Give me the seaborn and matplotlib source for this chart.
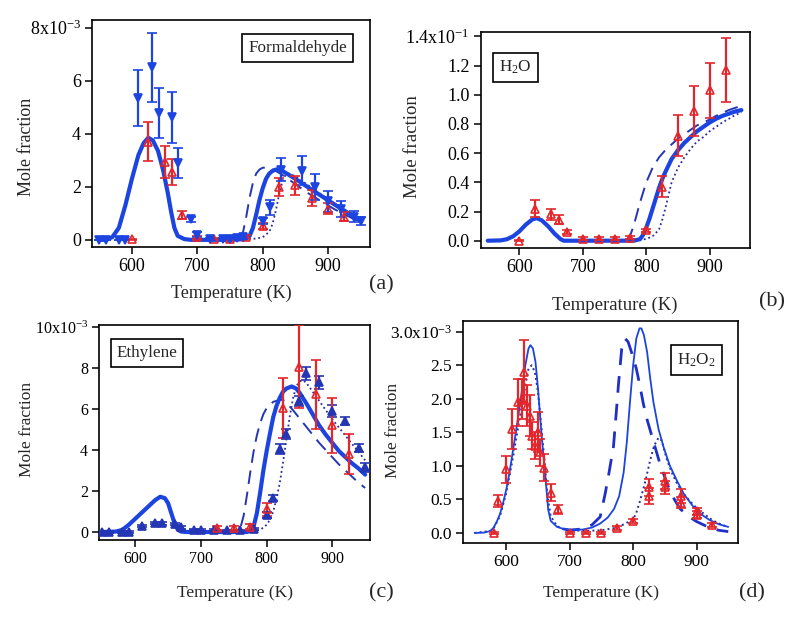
import matplotlib
matplotlib.use("Agg")
import matplotlib.pyplot as plt
import seaborn as sns
import pandas as pd

# ================= DATA =================
# ---- (a) Formaldehyde, units 1e-3 ----
a_blue_T = [550, 560, 580, 590, 610, 630, 641, 661, 671, 690, 700, 720, 740, 750, 760, 770,
            800, 811, 828, 860, 880, 900, 920, 940, 950]
a_blue_y = [0, 0, 0, 0, 5.35, 6.5, 4.78, 4.62, 2.9, 0.78, 0.2, 0.05, 0.05, 0.05, 0.07, 0.1,
            0.72, 1.22, 2.65, 2.6, 2.0, 1.45, 1.15, 0.87, 0.7]
a_blue_err = [0, 0, 0, 0, 1.05, 1.3, 0.95, 0.95, 0.58, 0.1, 0.08, 0.03, 0.03, 0.03, 0.03, 0.04,
              0.12, 0.3, 0.45, 0.55, 0.5, 0.4, 0.3, 0.2, 0.15]
a_red_T = [600, 625, 650, 662, 676, 700, 725, 750, 775, 800, 825, 850, 875, 900, 925]
a_red_y = [0.02, 3.7, 2.95, 2.55, 0.95, 0.1, 0.05, 0.05, 0.12, 0.52, 2.0, 2.05, 1.58, 1.18, 0.88]
a_red_err = [0.03, 0.74, 0.6, 0.48, 0.15, 0.05, 0.03, 0.03, 0.05, 0.1, 0.35, 0.35, 0.3, 0.22, 0.18]

a_solid_T = [550, 560, 570, 580, 590, 600, 610, 618, 625, 632, 640, 648, 655, 660, 665, 670, 680, 690,
             750, 770, 775, 780, 785, 790, 795, 800, 805, 810, 815, 820, 825, 830, 850, 870, 890,
             910, 930, 950]
a_solid_y = [0, 0, 0.1, 0.45, 1.3, 2.3, 3.2, 3.65, 3.85, 3.75, 3.35, 2.6, 1.75, 1.05, 0.45, 0.15, 0.03, 0,
             0, 0.02, 0.05, 0.15, 0.45, 0.95, 1.5, 1.95, 2.3, 2.5, 2.6, 2.65, 2.65, 2.6, 2.3, 1.97,
             1.65, 1.33, 1.02, 0.72]
a_dash_T = [700, 760, 765, 770, 775, 780, 785, 790, 795, 800, 810, 820, 830, 850, 870, 890, 910, 930, 950]
a_dash_y = [0, 0.0, 0.1, 0.3, 0.9, 1.6, 2.15, 2.5, 2.65, 2.72, 2.72, 2.6, 2.45, 2.1, 1.75, 1.45,
            1.15, 0.9, 0.65]
a_dot_T = [700, 770, 790, 800, 810, 815, 820, 825, 830, 835, 840, 850, 870, 890, 910, 930, 950]
a_dot_y = [0, 0, 0.05, 0.1, 0.3, 0.6, 1.1, 1.7, 2.2, 2.45, 2.5, 2.4, 2.05, 1.7, 1.35, 1.05, 0.78]

# ---- (b) H2O, units 1e-1 ----
b_red_T = [600, 625, 650, 663, 675, 700, 725, 750, 775, 800, 825, 850, 875, 900, 925]
b_red_y = [0.0, 0.22, 0.18, 0.145, 0.06, 0.015, 0.015, 0.015, 0.02, 0.07, 0.37, 0.72, 0.89, 1.03, 1.17]
b_red_err = [0.005, 0.06, 0.04, 0.03, 0.015, 0.008, 0.008, 0.008, 0.01, 0.012, 0.07, 0.14, 0.17, 0.19, 0.22]

b_solid_T = [550, 570, 580, 590, 600, 610, 620, 627, 635, 645, 655, 665, 670, 780, 790, 795, 800,
             805, 810, 815, 820, 825, 830, 840, 850, 860, 870, 880, 890, 900, 910, 920, 930, 940, 950]
b_solid_y = [0, 0.002, 0.01, 0.03, 0.065, 0.11, 0.145, 0.155, 0.14, 0.1, 0.05, 0.01, 0.0, 0.0, 0.01,
             0.04, 0.09, 0.15, 0.22, 0.29, 0.36, 0.42, 0.47, 0.56, 0.62, 0.67, 0.71, 0.75, 0.78,
             0.81, 0.835, 0.855, 0.87, 0.885, 0.895]
b_dash_T = [700, 760, 770, 775, 780, 785, 790, 795, 800, 810, 820, 830, 840, 850, 860, 870, 880,
            890, 900, 910, 920, 930, 940, 950]
b_dash_y = [0, 0, 0.01, 0.04, 0.1, 0.18, 0.26, 0.33, 0.40, 0.5, 0.57, 0.62, 0.66, 0.70, 0.73,
            0.76, 0.79, 0.81, 0.83, 0.855, 0.875, 0.895, 0.91, 0.925]
b_dot_T = [700, 780, 790, 800, 810, 820, 825, 830, 835, 840, 850, 860, 870, 880, 890, 900, 910,
           920, 930, 940, 950]
b_dot_y = [0, 0, 0.005, 0.012, 0.03, 0.075, 0.14, 0.22, 0.31, 0.40, 0.5, 0.57, 0.63, 0.68, 0.71,
           0.75, 0.78, 0.81, 0.835, 0.86, 0.88]

# ---- (c) Ethylene, units 1e-3 ----
c_blue_T = [550, 560, 580, 590, 610, 630, 640, 660, 670, 690, 700, 720, 740, 760, 780, 800, 810,
            820, 830, 850, 860, 880, 900, 920, 940, 950]
c_blue_y = [0, 0, 0, 0, 0.28, 0.45, 0.42, 0.39, 0.22, 0.12, 0.1, 0.1, 0.08, 0.08, 0.15, 0.85,
            1.64, 4.05, 4.8, 6.4, 7.74, 7.3, 5.9, 5.4, 4.08, 3.15]
c_blue_err = [0.03, 0.03, 0.03, 0.03, 0.05, 0.06, 0.06, 0.06, 0.05, 0.04, 0.04, 0.04, 0.04, 0.04,
              0.05, 0.15, 0.15, 0.25, 0.25, 0.25, 0.3, 0.3, 0.3, 0.2, 0.2, 0.2]
c_red_T = [725, 750, 775, 800, 825, 850, 875, 900, 925]
c_red_y = [0.2, 0.2, 0.25, 1.1, 6.03, 8.06, 6.72, 5.2, 3.8]
c_red_err = [0.1, 0.1, 0.12, 0.3, 1.46, 2.03, 1.67, 1.33, 0.97]

c_solid_T = [550, 570, 580, 590, 600, 610, 620, 630, 638, 645, 650, 655, 660, 665, 670, 680, 770,
             775, 780, 785, 790, 795, 800, 805, 810, 815, 820, 825, 830, 838, 845, 850, 860, 870,
             880, 890, 900, 910, 920, 930, 940, 950]
c_solid_y = [0, 0.02, 0.1, 0.35, 0.65, 0.95, 1.25, 1.55, 1.72, 1.65, 1.4, 0.9, 0.4, 0.1, 0.02, 0,
             0, 0.05, 0.25, 0.9, 1.9, 3.0, 3.95, 4.8, 5.6, 6.15, 6.55, 6.85, 7.0, 7.1, 7.0, 6.8,
             6.3, 5.75, 5.2, 4.75, 4.35, 3.95, 3.65, 3.35, 3.1, 2.8]
c_dash_T = [700, 750, 755, 760, 765, 770, 775, 780, 785, 790, 795, 800, 810, 820, 825, 830, 840,
            850, 860, 870, 880, 890, 900, 910, 920, 930, 940, 950]
c_dash_y = [0, 0, 0.05, 0.2, 0.8, 1.8, 2.9, 3.9, 4.7, 5.3, 5.75, 6.05, 6.35, 6.45, 6.45, 6.3,
            5.95, 5.55, 5.15, 4.75, 4.35, 4.0, 3.65, 3.3, 3.0, 2.7, 2.4, 2.15]
c_dot_T = [700, 770, 790, 800, 805, 810, 815, 820, 825, 830, 835, 840, 845, 850, 855, 860, 870,
           880, 890, 900, 910, 920, 930, 940, 950]
c_dot_y = [0, 0, 0.1, 0.35, 0.6, 1.0, 1.6, 2.4, 3.4, 4.5, 5.6, 6.5, 7.1, 7.35, 7.4, 7.3, 6.85,
           6.4, 5.95, 5.5, 5.1, 4.7, 4.3, 3.9, 3.5]

# ---- (d) H2O2, units 1e-3 ----
d_red_T = [580, 587, 600, 609, 618, 625, 628, 632, 637, 640, 645, 650, 653, 660, 671, 681, 700,
           725, 750, 775, 800, 825, 825, 850, 850, 875, 875, 900, 900, 925]
d_red_y = [0.0, 0.47, 0.95, 1.55, 1.95, 2.0, 2.4, 1.9, 1.75, 1.45, 1.3, 1.5, 1.2, 0.97, 0.6, 0.35,
           0.0, 0.0, 0.0, 0.08, 0.18, 0.68, 0.55, 0.78, 0.68, 0.55, 0.45, 0.32, 0.27, 0.12]
d_red_err = [0.02, 0.09, 0.2, 0.3, 0.35, 0.3, 0.48, 0.3, 0.3, 0.2, 0.2, 0.3, 0.2, 0.2, 0.13, 0.07,
             0.02, 0.02, 0.02, 0.03, 0.03, 0.13, 0.12, 0.12, 0.1, 0.1, 0.08, 0.05, 0.05, 0.03]

d_solid_T = [550, 565, 575, 580, 585, 590, 595, 600, 605, 610, 615, 620, 625, 630, 635, 638, 642,
             646, 650, 654, 658, 662, 666, 670, 680, 690, 700, 720, 735, 748, 760, 770, 778, 785,
             790, 795, 800, 805, 810, 813, 817, 822, 827, 832, 840, 848, 858, 869, 880, 895, 910,
             921, 935, 950]
d_solid_y = [0, 0.005, 0.03, 0.08, 0.17, 0.28, 0.45, 0.65, 0.9, 1.2, 1.5, 1.82, 2.15, 2.5, 2.75,
             2.8, 2.75, 2.55, 2.15, 1.65, 1.2, 0.8, 0.35, 0.18, 0.09, 0.06, 0.05, 0.05, 0.08, 0.14,
             0.23, 0.36, 0.55, 0.9, 1.35, 1.95, 2.5, 2.9, 3.05, 3.05, 2.95, 2.7, 2.3, 1.95, 1.55,
             1.28, 1.0, 0.78, 0.58, 0.39, 0.26, 0.19, 0.13, 0.09]
d_dash_T = [690, 700, 720, 735, 748, 756, 762, 769, 773, 777, 782, 787, 792, 798, 805, 811, 816,
            822, 830, 842, 855, 865, 874, 887, 900, 920, 935, 950]
d_dash_y = [0.06, 0.04, 0.06, 0.12, 0.24, 0.59, 0.9, 1.29, 1.75, 2.23, 2.75, 2.9, 2.85, 2.68,
            2.45, 2.18, 1.93, 1.69, 1.43, 1.04, 0.7, 0.5, 0.36, 0.25, 0.17, 0.08, 0.04, 0.02]
d_dot_T = [550, 575, 580, 590, 600, 610, 620, 630, 635, 640, 645, 650, 655, 660, 665, 670, 680,
           690, 700, 725, 750, 775, 800, 805, 810, 815, 820, 827, 833, 840, 845, 853, 861, 869,
           880, 890, 900, 911, 925, 940, 950]
d_dot_y = [0, 0.03, 0.07, 0.25, 0.6, 1.1, 1.65, 2.2, 2.45, 2.5, 2.4, 2.1, 1.6, 1.1, 0.55, 0.25,
           0.1, 0.06, 0.04, 0.03, 0.04, 0.08, 0.2, 0.3, 0.45, 0.62, 0.8, 1.09, 1.3, 1.42, 1.38,
           1.1, 0.9, 0.74, 0.58, 0.47, 0.37, 0.29, 0.19, 0.12, 0.09]

# ticks / labels
a_yticks = [0, 2, 4, 6, 8]
a_ylabels = ["0", "2", "4", "6", r"8x10$^{\mathregular{-3}}$"]
b_yticks = [0.0, 0.2, 0.4, 0.6, 0.8, 1.0, 1.2, 1.4]
b_ylabels = ["0.0", "0.2", "0.4", "0.6", "0.8", "1.0", "1.2", r"1.4x10$^{\mathregular{-1}}$"]
c_yticks = [0, 2, 4, 6, 8, 10]
c_ylabels = ["0", "2", "4", "6", "8", r"10x10$^{\mathregular{-3}}$"]
d_yticks = [0.0, 0.5, 1.0, 1.5, 2.0, 2.5, 3.0]
d_ylabels = ["0.0", "0.5", "1.0", "1.5", "2.0", "2.5", r"3.0x10$^{\mathregular{-3}}$"]
x_ticks = [600, 700, 800, 900]
species = ["Formaldehyde", r"H$_{\mathregular{2}}$O", "Ethylene",
           r"H$_{\mathregular{2}}$O$_{\mathregular{2}}$"]
panel_tags = ["(a)", "(b)", "(c)", "(d)"]

# ================= STYLE =================
sns.set_theme(style="ticks")
plt.rcParams["font.family"] = ["Liberation Serif", "DejaVu Serif"]
plt.rcParams["mathtext.fontset"] = "custom"
plt.rcParams["mathtext.rm"] = "Liberation Serif"
plt.rcParams["mathtext.it"] = "Liberation Serif:italic"
plt.rcParams["axes.unicode_minus"] = False

BLUE = "#1c44e0"
DBLUE = "#2436b4"
NAVY = "#2a2a9c"
RED = "#e3262b"

fig = plt.figure(figsize=(8, 6.17), dpi=100)
fig.patch.set_facecolor("white")

ax_a = fig.add_axes([0.115, 1 - 247 / 617, 0.3475, 227 / 617])
ax_b = fig.add_axes([0.601, 1 - 248 / 617, 0.336, 216 / 617])
ax_c = fig.add_axes([0.124, 1 - 540 / 617, 0.339, 215 / 617])
ax_d = fig.add_axes([0.579, 1 - 543 / 617, 0.344, 222 / 617])


def line(ax, T, y, color, lw, ls):
    df = pd.DataFrame({"T": T, "y": y})
    sns.lineplot(data=df, x="T", y="y", ax=ax, color=color, linewidth=lw,
                 linestyle=ls, sort=False, estimator=None, legend=False)


def pts(ax, T, y, err, color, marker, filled, ms=6):
    ax.errorbar(T, y, yerr=err, fmt=marker, color=color, ms=ms,
                mfc=color if filled else "none", mec=color, mew=1.2,
                elinewidth=1.6, capsize=3.3, capthick=1.6, zorder=5)


def style(ax, xlim, ylim, yt, yl, label, lpos, ylab_x, ylab_y, xlab_y, tfs, lfs):
    ax.set_xlim(*xlim)
    ax.set_ylim(*ylim)
    ax.set_xticks(x_ticks)
    ax.set_xticklabels([str(t) for t in x_ticks])
    ax.set_yticks(yt)
    ax.set_yticklabels(yl)
    for s in ax.spines.values():
        s.set_visible(True)
        s.set_linewidth(1.2)
        s.set_color("black")
    ax.tick_params(direction="out", length=5, width=1.1, labelsize=tfs,
                   colors="black", top=False, right=False, pad=3)
    ax.set_facecolor("white")
    ax.grid(False)
    ax.set_xlabel("Temperature (K)", fontsize=lfs)
    ax.set_ylabel("Mole fraction", fontsize=lfs)
    ax.xaxis.label.set_va("center")
    ax.yaxis.label.set_va("center")
    ax.xaxis.set_label_coords(0.5, xlab_y)
    ax.yaxis.set_label_coords(ylab_x, ylab_y)
    ax.text(lpos[0], lpos[1], label, transform=ax.transAxes, fontsize=12.3,
            ha="center", va="center", zorder=10,
            bbox=dict(boxstyle="square,pad=0.35", fc="white", ec="black", lw=1.2))


# ---- (a)
line(ax_a, a_dot_T, a_dot_y, NAVY, 1.3, (0, (1, 1.6)))
line(ax_a, a_dash_T, a_dash_y, DBLUE, 1.4, (0, (7, 4)))
line(ax_a, a_solid_T, a_solid_y, BLUE, 3.0, "-")
pts(ax_a, a_red_T, a_red_y, a_red_err, RED, "^", False, 5.5)
pts(ax_a, a_blue_T, a_blue_y, a_blue_err, BLUE, "v", True, 6)
style(ax_a, (539, 964), (-0.27, 8.29), a_yticks, a_ylabels, species[0], (0.74, 0.875),
      -0.235, 0.44, -0.205, 13, 13)

# ---- (b)
line(ax_b, b_dot_T, b_dot_y, NAVY, 1.3, (0, (1, 1.6)))
line(ax_b, b_dash_T, b_dash_y, DBLUE, 1.4, (0, (7, 4)))
line(ax_b, b_solid_T, b_solid_y, BLUE, 3.0, "-")
pts(ax_b, b_red_T, b_red_y, b_red_err, RED, "^", False, 5.5)
style(ax_b, (539, 963), (-0.05, 1.43), b_yticks, b_ylabels, species[1], (0.13, 0.836),
      -0.253, 0.468, -0.264, 13, 13.5)

# ---- (c)
line(ax_c, c_dot_T, c_dot_y, NAVY, 1.3, (0, (1, 1.6)))
line(ax_c, c_dash_T, c_dash_y, DBLUE, 1.4, (0, (7, 4)))
line(ax_c, c_solid_T, c_solid_y, BLUE, 3.0, "-")
pts(ax_c, c_blue_T, c_blue_y, c_blue_err, DBLUE, "^", True, 6)
pts(ax_c, c_red_T, c_red_y, c_red_err, RED, "^", False, 5.5)
style(ax_c, (545, 958), (-0.39, 10.1), c_yticks, c_ylabels, species[2], (0.176, 0.868),
      -0.266, 0.512, -0.246, 11.5, 12.5)

# ---- (d)
line(ax_d, d_dot_T, d_dot_y, NAVY, 1.4, (0, (1, 1.6)))
line(ax_d, d_dash_T, d_dash_y, "#1f2fc8", 2.0, (0, (6, 4)))
line(ax_d, d_solid_T, d_solid_y, BLUE, 1.3, "-")
pts(ax_d, d_red_T, d_red_y, d_red_err, RED, "^", False, 5.5)
style(ax_d, (532, 966), (-0.15, 3.16), d_yticks, d_ylabels, species[3], (0.848, 0.824),
      -0.255, 0.509, -0.225, 12.5, 12.5)

# panel tags
tag_pos = [(381.7, 285), (771.7, 301.7), (381.7, 593.3), (751.7, 593.3)]
for tag, (px, py) in zip(panel_tags, tag_pos):
    fig.text(px / 800, 1 - py / 617, tag, fontsize=16, ha="center", va="center")

fig.savefig("out.png", dpi=100, facecolor="white")
